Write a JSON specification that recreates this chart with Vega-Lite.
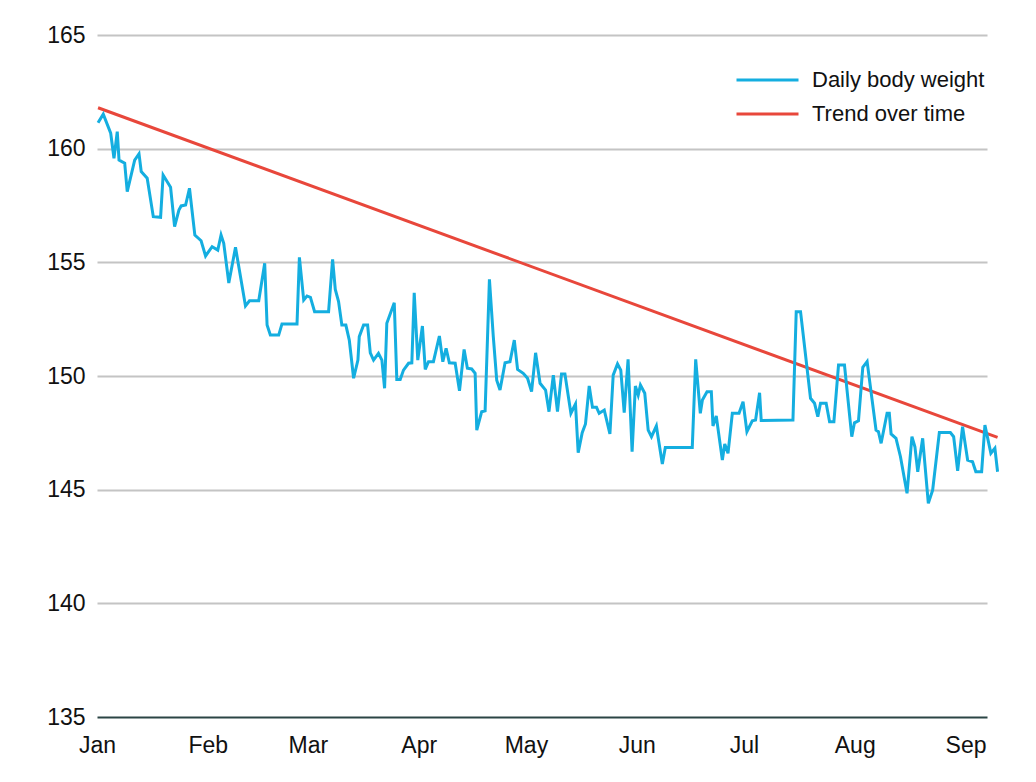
{
  "$schema": "https://vega.github.io/schema/vega-lite/v6.json",
  "width": 890,
  "height": 682,
  "padding": {"left": 46, "top": 24, "right": 10, "bottom": 10},
  "background": "white",
  "config": {
    "view": {"stroke": null},
    "font": "Liberation Sans",
    "axis": {"labelFont": "Liberation Sans", "labelColor": "#111111", "labelFontSize": 23}
  },
  "datasets": {
    "weight": [
      {"date": "2019-01-01T07:00", "weight": 161.14},
      {"date": "2019-01-02T18:00", "weight": 161.52},
      {"date": "2019-01-04T20:00", "weight": 160.68},
      {"date": "2019-01-05T18:00", "weight": 159.58},
      {"date": "2019-01-06T16:00", "weight": 160.75},
      {"date": "2019-01-07T04:00", "weight": 159.50},
      {"date": "2019-01-08T18:00", "weight": 159.36},
      {"date": "2019-01-09T11:00", "weight": 158.11},
      {"date": "2019-01-11T13:00", "weight": 159.50},
      {"date": "2019-01-12T18:00", "weight": 159.77},
      {"date": "2019-01-13T09:00", "weight": 158.99},
      {"date": "2019-01-15T01:00", "weight": 158.70},
      {"date": "2019-01-16T18:00", "weight": 157.01},
      {"date": "2019-01-18T19:00", "weight": 156.98},
      {"date": "2019-01-19T12:00", "weight": 158.84},
      {"date": "2019-01-21T14:00", "weight": 158.30},
      {"date": "2019-01-22T17:00", "weight": 156.57},
      {"date": "2019-01-23T22:00", "weight": 157.30},
      {"date": "2019-01-24T13:00", "weight": 157.48},
      {"date": "2019-01-25T19:00", "weight": 157.52},
      {"date": "2019-01-26T21:00", "weight": 158.26},
      {"date": "2019-01-28T09:00", "weight": 156.20},
      {"date": "2019-01-30T03:00", "weight": 155.95},
      {"date": "2019-01-31T09:00", "weight": 155.28},
      {"date": "2019-02-02T05:00", "weight": 155.69},
      {"date": "2019-02-03T19:00", "weight": 155.54},
      {"date": "2019-02-04T17:00", "weight": 156.20},
      {"date": "2019-02-05T11:00", "weight": 155.84},
      {"date": "2019-02-06T21:00", "weight": 154.09},
      {"date": "2019-02-08T18:00", "weight": 155.66},
      {"date": "2019-02-11T13:00", "weight": 153.08},
      {"date": "2019-02-12T16:00", "weight": 153.31},
      {"date": "2019-02-15T06:00", "weight": 153.31},
      {"date": "2019-02-16T22:00", "weight": 154.96},
      {"date": "2019-02-17T14:00", "weight": 152.24},
      {"date": "2019-02-18T12:00", "weight": 151.80},
      {"date": "2019-02-20T20:00", "weight": 151.80},
      {"date": "2019-02-21T18:00", "weight": 152.29},
      {"date": "2019-02-25T23:00", "weight": 152.29},
      {"date": "2019-02-26T15:00", "weight": 155.22},
      {"date": "2019-02-27T20:00", "weight": 153.34},
      {"date": "2019-02-28T18:00", "weight": 153.52},
      {"date": "2019-03-01T17:00", "weight": 153.46},
      {"date": "2019-03-02T21:00", "weight": 152.83},
      {"date": "2019-03-06T19:00", "weight": 152.83},
      {"date": "2019-03-07T22:00", "weight": 155.13},
      {"date": "2019-03-08T16:00", "weight": 153.81},
      {"date": "2019-03-09T14:00", "weight": 153.27},
      {"date": "2019-03-10T12:00", "weight": 152.24},
      {"date": "2019-03-11T15:00", "weight": 152.24},
      {"date": "2019-03-12T14:00", "weight": 151.58},
      {"date": "2019-03-13T19:00", "weight": 149.90},
      {"date": "2019-03-15T00:00", "weight": 150.70},
      {"date": "2019-03-15T09:00", "weight": 151.73},
      {"date": "2019-03-16T14:00", "weight": 152.24},
      {"date": "2019-03-17T17:00", "weight": 152.24},
      {"date": "2019-03-18T11:00", "weight": 151.02},
      {"date": "2019-03-19T09:00", "weight": 150.70},
      {"date": "2019-03-20T18:00", "weight": 151.00},
      {"date": "2019-03-21T17:00", "weight": 150.70},
      {"date": "2019-03-22T11:00", "weight": 149.46},
      {"date": "2019-03-23T02:00", "weight": 152.32},
      {"date": "2019-03-25T04:00", "weight": 153.22},
      {"date": "2019-03-25T21:00", "weight": 149.85},
      {"date": "2019-03-26T20:00", "weight": 149.85},
      {"date": "2019-03-27T18:00", "weight": 150.26},
      {"date": "2019-03-29T04:00", "weight": 150.56},
      {"date": "2019-03-30T02:00", "weight": 150.58},
      {"date": "2019-03-30T18:00", "weight": 153.66},
      {"date": "2019-03-31T18:00", "weight": 150.70},
      {"date": "2019-04-02T01:00", "weight": 152.20},
      {"date": "2019-04-02T20:00", "weight": 150.29},
      {"date": "2019-04-03T18:00", "weight": 150.63},
      {"date": "2019-04-05T03:00", "weight": 150.63},
      {"date": "2019-04-06T19:00", "weight": 151.76},
      {"date": "2019-04-07T18:00", "weight": 150.63},
      {"date": "2019-04-08T16:00", "weight": 151.22},
      {"date": "2019-04-09T14:00", "weight": 150.58},
      {"date": "2019-04-11T05:00", "weight": 150.56},
      {"date": "2019-04-12T10:00", "weight": 149.35},
      {"date": "2019-04-13T17:00", "weight": 151.17},
      {"date": "2019-04-14T15:00", "weight": 150.34},
      {"date": "2019-04-15T20:00", "weight": 150.31},
      {"date": "2019-04-16T19:00", "weight": 150.12},
      {"date": "2019-04-17T06:00", "weight": 147.62},
      {"date": "2019-04-18T15:00", "weight": 148.43},
      {"date": "2019-04-19T14:00", "weight": 148.47},
      {"date": "2019-04-20T19:00", "weight": 154.25},
      {"date": "2019-04-21T21:00", "weight": 151.73},
      {"date": "2019-04-22T20:00", "weight": 149.82},
      {"date": "2019-04-23T18:00", "weight": 149.38},
      {"date": "2019-04-25T04:00", "weight": 150.58},
      {"date": "2019-04-26T13:00", "weight": 150.63},
      {"date": "2019-04-27T18:00", "weight": 151.58},
      {"date": "2019-04-28T16:00", "weight": 150.29},
      {"date": "2019-04-30T06:00", "weight": 150.12},
      {"date": "2019-05-01T11:00", "weight": 149.90},
      {"date": "2019-05-02T14:00", "weight": 149.31},
      {"date": "2019-05-03T17:00", "weight": 151.02},
      {"date": "2019-05-04T23:00", "weight": 149.68},
      {"date": "2019-05-06T12:00", "weight": 149.38},
      {"date": "2019-05-07T11:00", "weight": 148.43},
      {"date": "2019-05-08T16:00", "weight": 150.04},
      {"date": "2019-05-09T20:00", "weight": 148.43},
      {"date": "2019-05-10T23:00", "weight": 150.09},
      {"date": "2019-05-11T22:00", "weight": 150.09},
      {"date": "2019-05-13T14:00", "weight": 148.36},
      {"date": "2019-05-14T21:00", "weight": 148.77},
      {"date": "2019-05-15T15:00", "weight": 146.63},
      {"date": "2019-05-16T18:00", "weight": 147.51},
      {"date": "2019-05-17T16:00", "weight": 147.89},
      {"date": "2019-05-18T17:00", "weight": 149.56},
      {"date": "2019-05-19T15:00", "weight": 148.62},
      {"date": "2019-05-20T18:00", "weight": 148.62},
      {"date": "2019-05-21T12:00", "weight": 148.36},
      {"date": "2019-05-22T22:00", "weight": 148.50},
      {"date": "2019-05-24T12:00", "weight": 147.45},
      {"date": "2019-05-25T10:00", "weight": 150.04},
      {"date": "2019-05-26T15:00", "weight": 150.53},
      {"date": "2019-05-27T13:00", "weight": 150.26},
      {"date": "2019-05-28T12:00", "weight": 148.39},
      {"date": "2019-05-29T14:00", "weight": 150.73},
      {"date": "2019-05-30T17:00", "weight": 146.67},
      {"date": "2019-05-31T15:00", "weight": 149.56},
      {"date": "2019-06-01T10:00", "weight": 149.16},
      {"date": "2019-06-02T01:00", "weight": 149.60},
      {"date": "2019-06-03T06:00", "weight": 149.24},
      {"date": "2019-06-04T05:00", "weight": 147.62},
      {"date": "2019-06-05T03:00", "weight": 147.33},
      {"date": "2019-06-06T12:00", "weight": 147.80},
      {"date": "2019-06-06T23:00", "weight": 147.33},
      {"date": "2019-06-08T04:00", "weight": 146.13},
      {"date": "2019-06-09T00:00", "weight": 146.86},
      {"date": "2019-06-16T13:00", "weight": 146.86},
      {"date": "2019-06-17T12:00", "weight": 150.73},
      {"date": "2019-06-18T19:00", "weight": 148.36},
      {"date": "2019-06-19T09:00", "weight": 148.94},
      {"date": "2019-06-20T16:00", "weight": 149.31},
      {"date": "2019-06-21T21:00", "weight": 149.31},
      {"date": "2019-06-22T08:00", "weight": 147.80},
      {"date": "2019-06-23T06:00", "weight": 148.24},
      {"date": "2019-06-24T23:00", "weight": 146.30},
      {"date": "2019-06-25T15:00", "weight": 147.01},
      {"date": "2019-06-26T13:00", "weight": 146.60},
      {"date": "2019-06-27T18:00", "weight": 148.36},
      {"date": "2019-06-29T15:00", "weight": 148.36},
      {"date": "2019-06-30T18:00", "weight": 148.87},
      {"date": "2019-07-01T20:00", "weight": 147.55},
      {"date": "2019-07-03T08:00", "weight": 148.03},
      {"date": "2019-07-04T06:00", "weight": 148.06},
      {"date": "2019-07-05T09:00", "weight": 149.26},
      {"date": "2019-07-05T20:00", "weight": 148.04},
      {"date": "2019-07-14T17:00", "weight": 148.06},
      {"date": "2019-07-15T15:00", "weight": 152.83},
      {"date": "2019-07-16T20:00", "weight": 152.83},
      {"date": "2019-07-19T15:00", "weight": 149.02},
      {"date": "2019-07-20T18:00", "weight": 148.80},
      {"date": "2019-07-21T16:00", "weight": 148.21},
      {"date": "2019-07-22T10:00", "weight": 148.80},
      {"date": "2019-07-24T00:00", "weight": 148.80},
      {"date": "2019-07-24T23:00", "weight": 147.99},
      {"date": "2019-07-26T04:00", "weight": 147.99},
      {"date": "2019-07-27T11:00", "weight": 150.48},
      {"date": "2019-07-29T03:00", "weight": 150.48},
      {"date": "2019-07-31T04:00", "weight": 147.33},
      {"date": "2019-07-31T22:00", "weight": 147.94},
      {"date": "2019-08-02T01:00", "weight": 148.03},
      {"date": "2019-08-03T06:00", "weight": 150.38},
      {"date": "2019-08-04T11:00", "weight": 150.63},
      {"date": "2019-08-06T23:00", "weight": 147.62},
      {"date": "2019-08-07T15:00", "weight": 147.55},
      {"date": "2019-08-08T09:00", "weight": 147.04},
      {"date": "2019-08-10T01:00", "weight": 148.36},
      {"date": "2019-08-10T16:00", "weight": 148.36},
      {"date": "2019-08-11T04:00", "weight": 147.45},
      {"date": "2019-08-12T13:00", "weight": 147.26},
      {"date": "2019-08-13T19:00", "weight": 146.45},
      {"date": "2019-08-15T15:00", "weight": 144.84},
      {"date": "2019-08-17T00:00", "weight": 147.33},
      {"date": "2019-08-17T20:00", "weight": 146.89},
      {"date": "2019-08-18T15:00", "weight": 145.79},
      {"date": "2019-08-20T00:00", "weight": 147.26},
      {"date": "2019-08-21T14:00", "weight": 144.40},
      {"date": "2019-08-22T19:00", "weight": 144.98},
      {"date": "2019-08-24T16:00", "weight": 147.51},
      {"date": "2019-08-27T18:00", "weight": 147.51},
      {"date": "2019-08-28T16:00", "weight": 147.33},
      {"date": "2019-08-29T19:00", "weight": 145.83},
      {"date": "2019-08-31T04:00", "weight": 147.77},
      {"date": "2019-09-01T14:00", "weight": 146.30},
      {"date": "2019-09-02T23:00", "weight": 146.23},
      {"date": "2019-09-03T21:00", "weight": 145.79},
      {"date": "2019-09-05T12:00", "weight": 145.79},
      {"date": "2019-09-06T10:00", "weight": 147.84},
      {"date": "2019-09-08T02:00", "weight": 146.60},
      {"date": "2019-09-09T05:00", "weight": 146.82},
      {"date": "2019-09-09T23:00", "weight": 145.79}
    ],
    "trend": [
      {"date": "2019-01-01T07:00", "weight": 161.8},
      {"date": "2019-09-09T23:00", "weight": 147.3}
    ]
  },
  "layer": [
    {
      "data": {"name": "trend"},
      "mark": {"type": "line", "strokeWidth": 3, "clip": false},
      "encoding": {
        "x": {
          "field": "date", "type": "temporal",
          "scale": {"domain": ["2019-01-01T00:00", "2019-09-07T00:00"]},
          "axis": {
            "title": null, "grid": false, "ticks": false, "domain": false,
            "format": "%b", "labelFlush": false, "labelPadding": 17,
            "values": ["2019-01-01T00:00", "2019-02-01T00:00", "2019-03-01T00:00", "2019-04-01T00:00", "2019-05-01T00:00", "2019-06-01T00:00", "2019-07-01T00:00", "2019-08-01T00:00", "2019-09-01T00:00"]
          }
        },
        "y": {
          "field": "weight", "type": "quantitative",
          "scale": {"domain": [135, 165], "zero": false, "nice": false},
          "axis": {
            "title": null, "ticks": false, "domain": false,
            "values": [135, 140, 145, 150, 155, 160, 165],
            "labelPadding": 12,
            "gridWidth": 2,
            "gridColor": {"condition": {"test": "datum.value === 135", "value": "#2b4545"}, "value": "#c4c4c4"}
          }
        },
        "color": {
          "datum": "Trend over time",
          "type": "nominal",
          "scale": {"domain": ["Daily body weight", "Trend over time"], "range": ["#14aee0", "#e8473b"]},
          "legend": {
            "title": null,
            "orient": "none",
            "legendX": 638,
            "legendY": 28,
            "padding": 0,
            "symbolType": "stroke",
            "symbolSize": 3844,
            "symbolStrokeWidth": 3,
            "labelFont": "Liberation Sans",
            "labelFontSize": 22,
            "labelColor": "#111111",
            "labelOffset": 12,
            "labelLimit": 0,
            "clipHeight": 34,
            "rowPadding": 0
          }
        }
      }
    },
    {
      "data": {"name": "weight"},
      "mark": {"type": "line", "strokeWidth": 3, "clip": false},
      "encoding": {
        "x": {"field": "date", "type": "temporal"},
        "y": {"field": "weight", "type": "quantitative"},
        "color": {"datum": "Daily body weight", "type": "nominal"}
      }
    }
  ]
}
